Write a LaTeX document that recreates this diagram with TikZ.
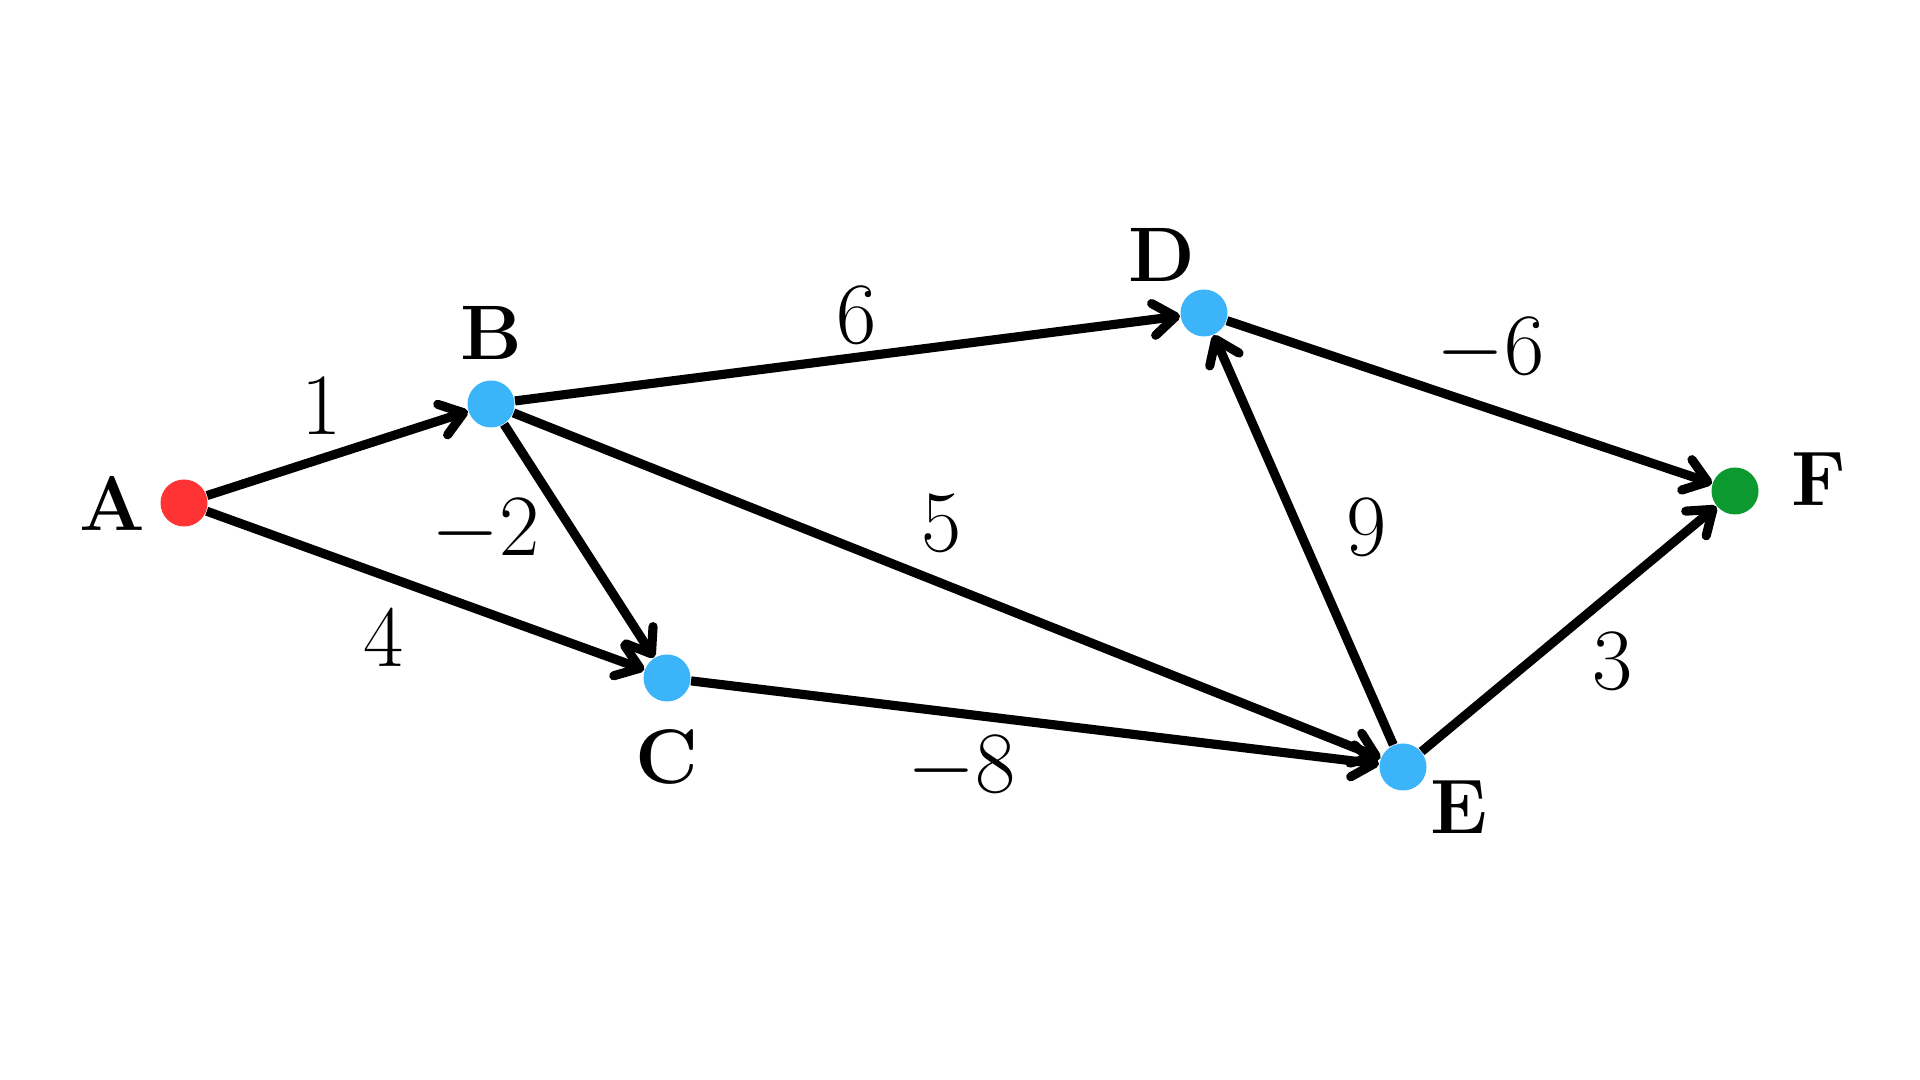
\documentclass[tikz,border=0pt]{standalone}
\definecolor{VRed}{HTML}{FF3333}
\definecolor{VBlue}{HTML}{3BB4F9}
\definecolor{VGreen}{HTML}{0C9A30}
\usetikzlibrary{positioning,arrows.meta}

\begin{document}
\begin{tikzpicture}[
      v/.style={circle, inner sep=0pt, minimum size=0.47cm, fill=VBlue},
      n/.style={inner sep=0pt, on grid, font=\fontsize{22}{26}\selectfont\bfseries},
      w/.style={inner sep=0pt, font=\fontsize{25}{30}\selectfont},
      e/.style={line width=2.6pt, -{Straight Barb[length=0.22cm, width=0.32cm, round]}}]
      \useasboundingbox (0,0) rectangle (19.2,10.8);
      % vertices
      \node[v, fill=VRed] (A) at (1.84,5.77) {};
      \node[v] (B) at (4.91,6.76) {};
      \node[v] (C) at (6.67,4.02) {};
      \node[v] (D) at (12.04,7.67) {};
      \node[v] (E) at (14.03,3.13) {};
      \node[v, fill=VGreen] (F) at (17.35,5.89) {};
      % vertex names
      \node[n, left=0.72cm of A] (nA) {A};
      \node[n, above=0.71cm of B] (nB) {B};
      \node[n, below=0.79cm of C] (nC) {C};
      \node[n, above left=0.58cm and 0.42cm of D] (nD) {D};
      \node[n, below right=0.40cm and 0.56cm of E] (nE) {E};
      \node[n, above right=0.12cm and 0.84cm of F] (nF) {F};
      % weights
      \node[w] (wAB) at (3.22,6.74) {$1$};
      \node[w] (wAC) at (3.84,4.42) {$4$};
      \node[w] (wBC) at (4.86,5.49) {$-2$};
      \node[w] (wBD) at (8.57,7.65) {$6$};
      \node[w] (wBE) at (9.42,5.57) {$5$};
      \node[w] (wCE) at (9.62,3.12) {$-8$};
      \node[w] (wED) at (13.67,5.53) {$9$};
      \node[w] (wDF) at (14.91,7.30) {$-6$};
      \node[w] (wEF) at (16.13,4.19) {$3$};
      % edges
      \draw[e] (A) -- (B);
      \draw[e] (A) -- (C);
      \draw[e] (B) -- (C);
      \draw[e] (B) -- (D);
      \draw[e] (B) -- (E);
      \draw[e] (C) -- (E);
      \draw[e] (E) -- (D);
      \draw[e] (D) -- (F);
      \draw[e] (E) -- (F);
    \end{tikzpicture}
\end{document}
